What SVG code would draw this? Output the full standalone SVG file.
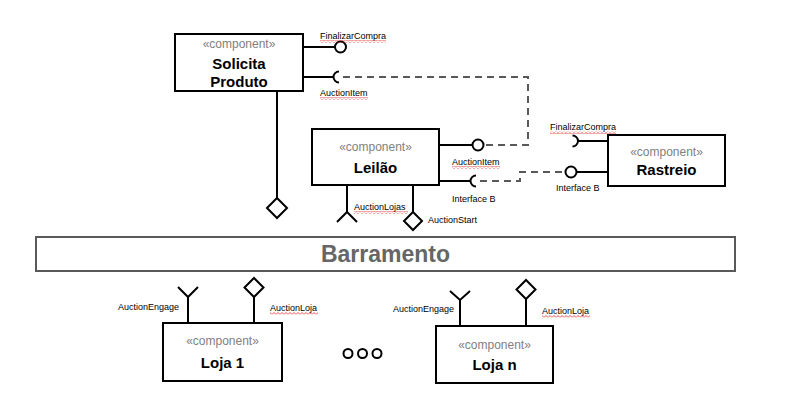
<svg xmlns="http://www.w3.org/2000/svg" width="788" height="405" viewBox="0 0 788 405">
<style>
.box{fill:#fff;stroke:#000;stroke-width:2}
.ln{fill:none;stroke:#000;stroke-width:2}
.dash{fill:none;stroke:#595959;stroke-width:2;stroke-dasharray:7 5}
.st{font-family:"Liberation Sans",Arial,sans-serif;font-size:12px;fill:#808080;text-anchor:middle}
.nm{font-family:"Liberation Sans",Arial,sans-serif;font-size:15px;font-weight:bold;fill:#000;text-anchor:middle}
.lb{font-family:"Liberation Sans",Arial,sans-serif;font-size:9px;fill:#000}
.wavy{fill:url(#wv)}
</style>
<defs>
<pattern id="wv" width="4" height="3" patternUnits="userSpaceOnUse">
<path d="M0,2.5 L2,0.5 L4,2.5" fill="none" stroke="#e00000" stroke-width="0.7"/>
</pattern>
</defs>
<rect x="0" y="0" width="788" height="405" fill="#fff"/>
<g id="connectors">
<path class="dash" d="M343,77 H528 V145 H484"/>
<path class="dash" d="M480,181 H520 V172 H566"/>
</g>
<g id="solicita">
<rect class="box" x="175" y="34" width="128" height="57"/>
<text class="st" x="239" y="48">«component»</text>
<text class="nm" x="239" y="69">Solicita</text>
<text class="nm" x="239" y="87">Produto</text>
<line class="ln" x1="303" y1="47" x2="335" y2="47"/>
<circle class="ln" cx="340.5" cy="47" r="5.5"/>
<text class="lb" x="320" y="39">FinalizarCompra</text>
<rect class="wavy" x="320" y="40" width="66" height="3"/>
<line class="ln" x1="303" y1="77" x2="333" y2="77"/>
<path class="ln" d="M339,71.5 A5.5,5.5 0 0 0 339,82.5"/>
<text class="lb" x="320" y="96">AuctionItem</text>
<rect class="wavy" x="320" y="97" width="48" height="3"/>
<line class="ln" x1="277" y1="91" x2="277" y2="198"/>
<path class="ln" d="M277,198 L287,208 L277,218 L267,208 Z"/>
</g>
<g id="leilao">
<rect class="box" x="312" y="129" width="127" height="56"/>
<text class="st" x="375.5" y="151">«component»</text>
<text class="nm" x="375.5" y="173">Leilão</text>
<line class="ln" x1="439" y1="145" x2="472.5" y2="145"/>
<circle class="ln" cx="478" cy="145" r="5.5"/>
<text class="lb" x="452" y="165">AuctionItem</text>
<rect class="wavy" x="452" y="166" width="48" height="3"/>
<line class="ln" x1="439" y1="181" x2="470" y2="181"/>
<path class="ln" d="M476,175.5 A5.5,5.5 0 0 0 476,186.5"/>
<text class="lb" x="452" y="202">Interface B</text>
<line class="ln" x1="347" y1="185" x2="347" y2="212"/>
<path class="ln" d="M337,222 L347,212 L357,222"/>
<text class="lb" x="354" y="210">AuctionLojas</text>
<rect class="wavy" x="354" y="211" width="54" height="3"/>
<line class="ln" x1="413" y1="185" x2="413" y2="212"/>
<path class="ln" d="M413,212 L422,221 L413,230 L404,221 Z"/>
<text class="lb" x="428" y="223">AuctionStart</text>
</g>
<g id="rastreio">
<rect class="box" x="608" y="135" width="117" height="51"/>
<text class="st" x="666.5" y="156">«component»</text>
<text class="nm" x="666.5" y="175">Rastreio</text>
<line class="ln" x1="578" y1="141" x2="608" y2="141"/>
<path class="ln" d="M572.5,135.5 A5.5,5.5 0 0 1 572.5,146.5"/>
<text class="lb" x="550" y="130">FinalizarCompra</text>
<rect class="wavy" x="550" y="131" width="66" height="3"/>
<line class="ln" x1="576.5" y1="172" x2="608" y2="172"/>
<circle class="ln" cx="571" cy="172" r="5.5"/>
<text class="lb" x="556" y="191">Interface B</text>
</g>
<g id="barramento">
<rect x="36" y="237" width="699" height="34" fill="#fff" stroke="#595959" stroke-width="2"/>
<text x="385.5" y="262" font-family="'Liberation Sans',Arial,sans-serif" font-size="23" font-weight="bold" fill="#666" text-anchor="middle">Barramento</text>
</g>
<g id="loja1">
<rect class="box" x="163" y="323" width="119" height="58"/>
<text class="st" x="222.5" y="345">«component»</text>
<text class="nm" x="222.5" y="368">Loja 1</text>
<line class="ln" x1="188" y1="323" x2="188" y2="297"/>
<path class="ln" d="M178,287 L188,297 L198,287"/>
<text class="lb" x="118" y="310">AuctionEngage</text>
<line class="ln" x1="254" y1="323" x2="254" y2="297"/>
<path class="ln" d="M254,278 L263.5,287.5 L254,297 L244.5,287.5 Z"/>
<text class="lb" x="270" y="311">AuctionLoja</text>
<rect class="wavy" x="270" y="312" width="48" height="3"/>
</g>
<g id="ellipsis">
<circle class="ln" cx="348" cy="353.5" r="4.5"/>
<circle class="ln" cx="362.5" cy="353.5" r="4.5"/>
<circle class="ln" cx="377" cy="353.5" r="4.5"/>
</g>
<g id="lojan">
<rect class="box" x="436" y="326" width="117" height="57"/>
<text class="st" x="494.5" y="349">«component»</text>
<text class="nm" x="494.5" y="370">Loja n</text>
<line class="ln" x1="460" y1="326" x2="460" y2="300"/>
<path class="ln" d="M450,291 L460,300 L470,291"/>
<text class="lb" x="393" y="312">AuctionEngage</text>
<line class="ln" x1="526" y1="326" x2="526" y2="299"/>
<path class="ln" d="M526,280 L535.5,289.5 L526,299 L516.5,289.5 Z"/>
<text class="lb" x="542" y="314">AuctionLoja</text>
<rect class="wavy" x="542" y="315" width="48" height="3"/>
</g>
</svg>
